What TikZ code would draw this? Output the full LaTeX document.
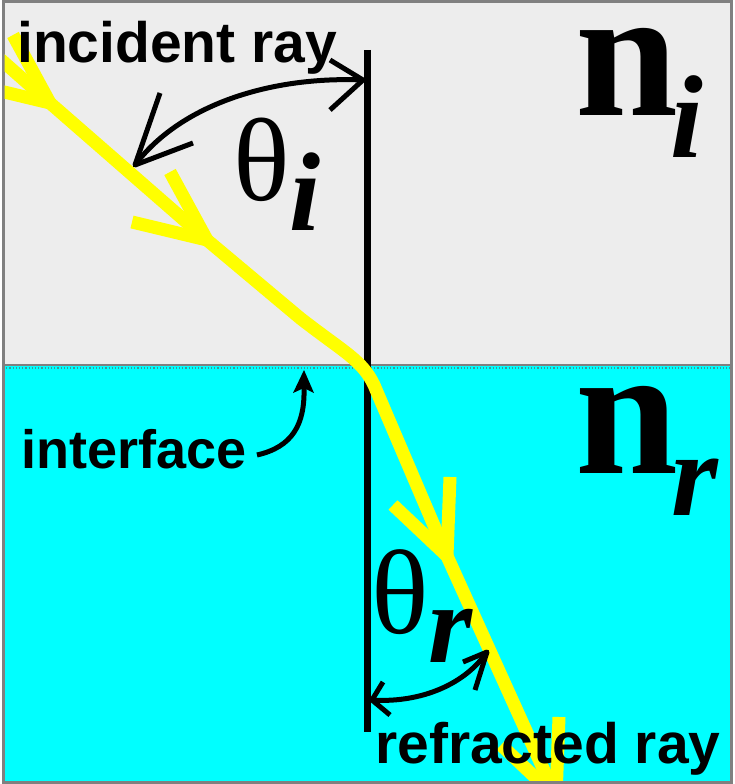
\documentclass[tikz,border=0pt]{standalone}
\usepackage{fontspec}
\setmainfont{Liberation Serif}
\newfontfamily\lblsans{Liberation Sans}
\usetikzlibrary{calc}
\definecolor{topgray}{HTML}{EDEDED}
\definecolor{watercyan}{HTML}{00FFFF}
\definecolor{edgegray}{HTML}{808080}
\definecolor{dcyan}{HTML}{3A9A9A}
\definecolor{rayyellow}{HTML}{FFFF00}
\tikzset{
  ray/.style={draw=rayyellow, line width=13pt, line join=round},
  blk/.style={draw=black, line width=5pt, line join=round},
  normalline/.style={draw=black, line width=7pt},
  lbl/.style={inner sep=0pt, anchor=base west, font=\lblsans\bfseries\fontsize{57}{60}\selectfont},
  sym/.style={inner sep=0pt, anchor=base west, text height=0.5em, text depth=0pt},
}
\begin{document}
\begin{tikzpicture}[x=1pt,y=-1pt]
\useasboundingbox (0,0) rectangle (734,784);
\fill[white] (0,0) rectangle (734,784);
% media
\fill[topgray] (3,2) rectangle (731,366);
\fill[watercyan] (3,366) rectangle (731,782);
\draw[edgegray, line width=2.5pt] (3,365) -- (731,365);
\draw[dcyan, line width=1.2pt, dotted] (3,368) -- (731,368);
\draw[edgegray, line width=3pt] (3,2) rectangle (731,782);
% normal
\coordinate (ntop) at (367,50);
\coordinate (nbot) at (367,732);
\draw[normalline] (ntop) -- (nbot);
% rays
\begin{scope}
\clip (4.5,3.5) rectangle (729.5,780.5);
\coordinate (S) at (50,103);
\coordinate (S0) at ($(S)+(-60,-53)$);
\coordinate (SB1) at (13,35);
\coordinate (SB2) at (-25,85);
\coordinate (T1) at (207,240);
\coordinate (T1a) at (170,172);
\coordinate (T1b) at (132,222);
\coordinate (K) at (300,318);
\coordinate (X) at (374,385);
\coordinate (T2) at (447,556);
\coordinate (T2a) at (450,477);
\coordinate (T2b) at (393,505);
\coordinate (E) at (556,797);
\coordinate (Ea) at (559,717);
\coordinate (Eb) at (501,745);
\draw[ray] (S0) -- (S) -- (T1) -- (K) .. controls (345,353) and (362,360) .. (X) -- (T2) -- (E);
\draw[ray] (SB1) -- (S) -- (SB2);
\draw[ray] (T1a) -- (T1) -- (T1b);
\draw[ray] (T2a) -- (T2) -- (T2b);
\draw[ray] (Ea) -- (E) -- (Eb);
\end{scope}
% angle theta_i
\coordinate (ai1) at (363,80);
\coordinate (ai2) at (135,165);
\draw[blk] (ai1) .. controls (270,76) and (180,105) .. (ai2);
\draw[blk] (330,60) -- (ai1) -- (330,110);
\draw[blk] (160,93) -- (ai2) -- (193,143);
% angle theta_r
\coordinate (ar1) at (372,700);
\coordinate (ar2) at (487,652);
\draw[blk] (ar1) .. controls (415,703) and (462,688) .. (ar2);
\draw[blk] (383,682) -- (ar1) -- (390,715);
\draw[blk] (463,662) -- (ar2) -- (475,690);
% interface pointer
\coordinate (ip0) at (257,455);
\coordinate (ip1) at (304,388);
\coordinate (iptip) at (304,370);
\draw[blk] (ip0) .. controls (292,447) and (305,425) .. (ip1);
\fill[black] (iptip) -- (314,393) -- (304,388) -- (293,393) -- cycle;
% labels
\node[lbl] (inc) at (17,63) {incident ray};
\node[lbl] (intf) at (21,468) {\fontsize{54}{56}\selectfont interface};
\node[lbl] (refr) at (375,763) {refracted ray};
% symbols
\node[sym, font=\fontsize{118}{120}\selectfont] (thi) at (233,200) {θ};
\node[sym, font=\bfseries\itshape\fontsize{112}{114}\selectfont] (thisub) at (289,230) {i};
\node[sym, font=\fontsize{120}{122}\selectfont] (thr) at (371,633) {θ};
\node[sym, font=\bfseries\itshape\fontsize{113}{115}\selectfont] (thrsub) at (428,662) {r};
\node[sym, font=\bfseries\fontsize{185}{188}\selectfont] (ni) at (575,115) {n};
\node[sym, font=\bfseries\itshape\fontsize{118}{120}\selectfont] (nisub) at (670,157) {i};
\node[sym, font=\bfseries\fontsize{185}{188}\selectfont] (nr) at (575,473) {n};
\node[sym, font=\bfseries\itshape\fontsize{120}{122}\selectfont] (nrsub) at (671,515) {r};
\end{tikzpicture}
\end{document}
